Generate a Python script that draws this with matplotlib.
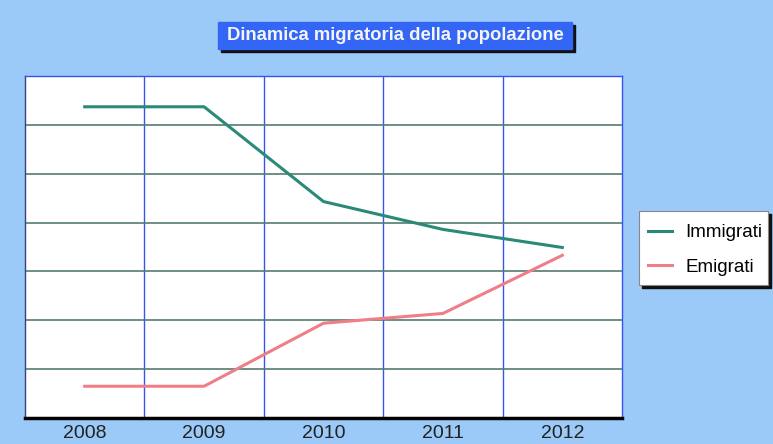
import numpy as np
import matplotlib.pyplot as plt
from matplotlib.patches import Rectangle

years = ['2008', '2009', '2010', '2011', '2012']
immigrati = [6.37, 6.37, 4.43, 3.86, 3.49]
emigrati = [0.65, 0.65, 1.94, 2.14, 3.33]

plt.rcParams['font.family'] = ['Liberation Sans', 'DejaVu Sans']

bg = '#9ccaf8'
fig = plt.figure(figsize=(7.73, 4.44), dpi=100, facecolor=bg)
ax = fig.add_axes([25 / 773, 26 / 444, 597 / 773, 342 / 444])
ax.set_facecolor('white')

x = np.arange(len(years))
ax.plot(x, immigrati, color='#2a8a78', lw=2.2, label='Immigrati', zorder=3)
ax.plot(x, emigrati, color='#ef7f86', lw=2.2, label='Emigrati', zorder=3)

ax.set_xlim(-0.5, len(years) - 0.5)
ax.set_ylim(0, 7)
for v in np.arange(0.5, len(years) - 0.5):
    ax.axvline(v, color='#3355ee', lw=1, zorder=1)
for h in range(1, 7):
    ax.axhline(h, color='#557a70', lw=1.2, zorder=1)

ax.set_xticks(x)
ax.set_xticklabels(years, fontsize=14, color='#222222')
ax.set_yticks([])
ax.tick_params(axis='x', length=0, pad=5)
for s in ['top', 'right', 'left']:
    ax.spines[s].set_color('#3355ee')
    ax.spines[s].set_linewidth(1)
ax.spines['left'].set_color('#334477')
ax.spines['bottom'].set_color('black')
ax.spines['bottom'].set_linewidth(2.5)

# title box with shadow
W, H = 773, 444
fig.patches.append(Rectangle((221 / W, (444 - 52) / H), 354 / W, 27 / H,
                             transform=fig.transFigure, color='#111111', zorder=1))
fig.patches.append(Rectangle((218 / W, (444 - 49) / H), 354 / W, 27 / H,
                             transform=fig.transFigure, color='#3366f5', zorder=2))
fig.text(395 / W, (444 - 35.5) / H, 'Dinamica migratoria della popolazione',
         ha='center', va='center', fontsize=13.3, fontweight='bold',
         color='#f4f4f4', zorder=3)

# legend box with shadow
fig.patches.append(Rectangle((642 / W, (444 - 288) / H), 129 / W, 74 / H,
                             transform=fig.transFigure, color='#111111', zorder=1))
fig.patches.append(Rectangle((639 / W, (444 - 285) / H), 129 / W, 74 / H,
                             transform=fig.transFigure, facecolor='white',
                             edgecolor='#888888', lw=0.8, zorder=2))
handles, labels = ax.get_legend_handles_labels()
leg = fig.legend(handles, labels, loc='center', bbox_to_anchor=(705 / W, (444 - 250) / H),
                 frameon=False, fontsize=13.5, handlelength=1.3, handletextpad=0.7,
                 labelspacing=0.95)
leg.set_zorder(5)

fig.savefig('out.png', dpi=100, facecolor=bg)
